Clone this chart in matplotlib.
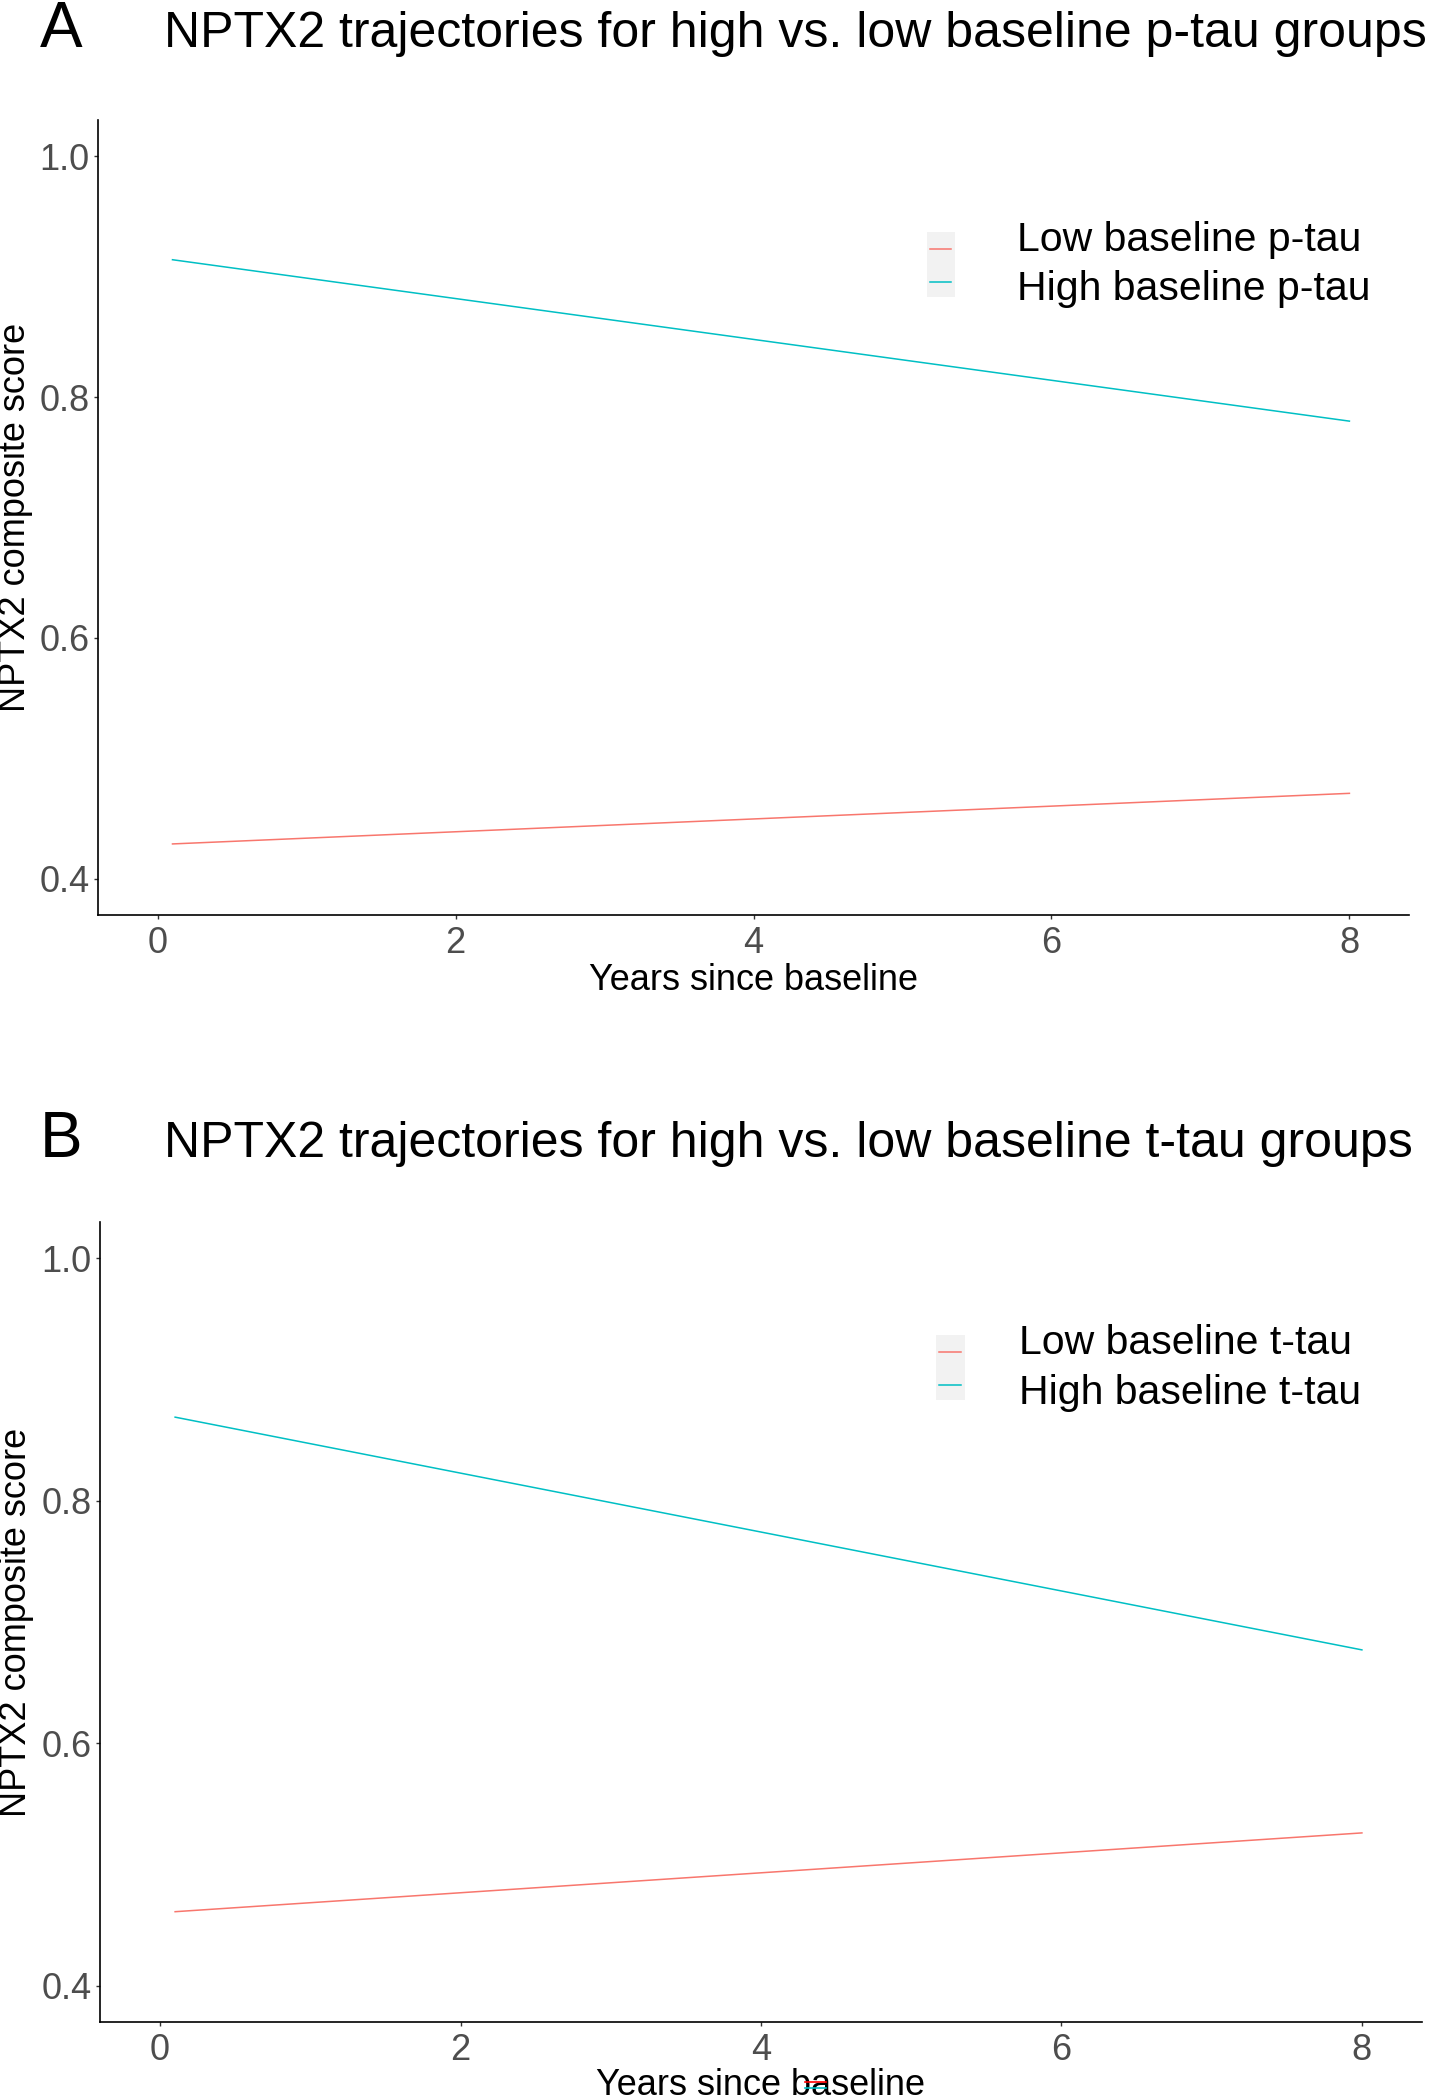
import matplotlib
matplotlib.use("Agg")
import matplotlib.pyplot as plt
from matplotlib.patches import Rectangle
from matplotlib.lines import Line2D

plt.rcParams['font.family'] = ['Liberation Sans', 'DejaVu Sans']

# model-predicted NPTX2 trajectories (start / end of follow-up)
years = [0.1, 8.0]
ptau_low = [0.429, 0.471]
ptau_high = [0.914, 0.780]
ttau_low = [0.461, 0.526]
ttau_high = [0.869, 0.677]

panel_tags = ["A", "B"]
titles = ["NPTX2 trajectories for high vs. low baseline p-tau groups",
          "NPTX2 trajectories for high vs. low baseline t-tau groups"]
legend_labels = [["Low baseline p-tau", "High baseline p-tau"],
                 ["Low baseline t-tau", "High baseline t-tau"]]
x_ticks = [0, 2, 4, 6, 8]
y_ticks = [0.4, 0.6, 0.8, 1.0]

RED = "#F8766D"
CYAN = "#00BFC4"

W, H = 1429, 2100
fig = plt.figure(figsize=(W / 100, H / 100), dpi=100)


def px_axes(left, top, right, bottom):
    return fig.add_axes([left / W, 1 - bottom / H, (right - left) / W, (bottom - top) / H])


axA = px_axes(98, 120, 1409, 915)
axB = px_axes(100, 1222, 1422, 2022)

series = [(ptau_low, ptau_high), (ttau_low, ttau_high)]
title_y = [47, 1157]
xlab_y = [-0.094, -0.091]
legend_x = [0.701, 0.695]

for i, ax in enumerate([axA, axB]):
    low, high = series[i]
    ax.plot(years, low, color=RED, lw=1.1)
    ax.plot(years, high, color=CYAN, lw=1.1)

    ax.set_xlim(-0.4, 8.4)
    ax.set_ylim(0.37, 1.03)
    ax.set_xticks(x_ticks)
    ax.set_yticks(y_ticks)
    ax.set_yticklabels([f"{v:.1f}" for v in y_ticks])
    for s in ["top", "right"]:
        ax.spines[s].set_visible(False)
    for s in ["left", "bottom"]:
        ax.spines[s].set_linewidth(1.2)
        ax.spines[s].set_color("black")
    ax.tick_params(axis="both", length=3, width=1, color="#333333",
                   labelcolor="#4D4D4D", labelsize=26)
    ax.tick_params(axis="x", pad=5)
    ax.tick_params(axis="y", pad=3)

    ax.set_xlabel("Years since baseline", fontsize=26, va="baseline")
    ax.xaxis.set_label_coords(0.5, xlab_y[i])
    ax.set_ylabel("NPTX2 composite score", fontsize=26, va="center")
    ax.yaxis.set_label_coords(-0.063, 0.5)

    # ggplot style legend: grey key box, text to the right
    ax.add_patch(Rectangle((0.632, 0.777), 0.022, 0.082, transform=ax.transAxes,
                           facecolor="#F2F2F2", edgecolor="none"))
    key_y = [0.838, 0.796]
    text_y = [0.835, 0.773]
    for c, ky, ty, lab in zip([RED, CYAN], key_y, text_y, legend_labels[i]):
        ax.add_line(Line2D([0.635, 0.651], [ky, ky], transform=ax.transAxes,
                           color=c, lw=1.1))
        ax.text(legend_x[i], ty, lab, transform=ax.transAxes, fontsize=29.5,
                va="baseline", ha="left")

    fig.text(40 / W, 1 - title_y[i] / H, panel_tags[i], fontsize=46,
             va="baseline", ha="left")
    fig.text(164 / W, 1 - title_y[i] / H, titles[i], fontsize=36,
             va="baseline", ha="left")

# stray legend keys that sit on the lower x label in the original
fig.add_artist(Line2D([805 / W, 826 / W], [1 - 2082 / H, 1 - 2082 / H], color="red", lw=1.2))
fig.add_artist(Line2D([805 / W, 826 / W], [1 - 2088 / H, 1 - 2088 / H], color=CYAN, lw=1.2))

fig.savefig("out.png", dpi=100)
